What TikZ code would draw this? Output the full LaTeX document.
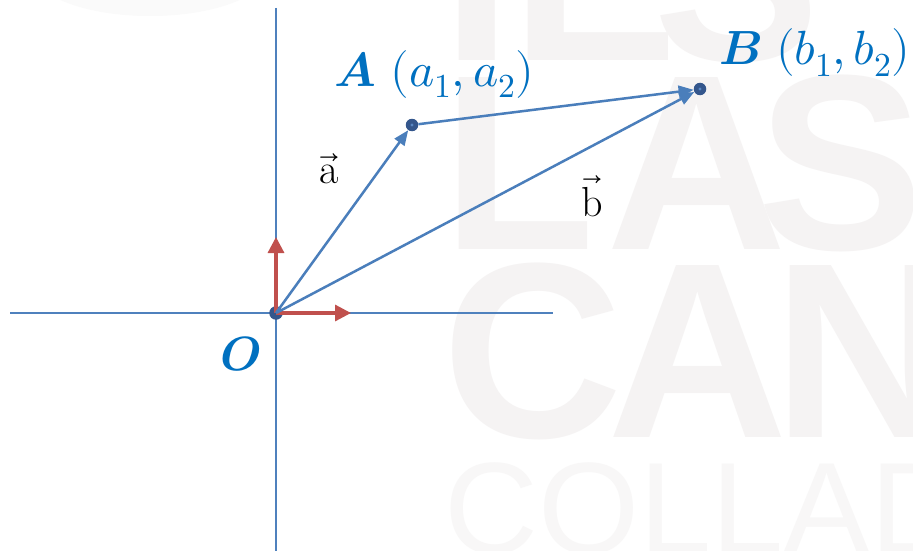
\documentclass[tikz,border=0pt]{standalone}
\usepackage{fontspec}
\usepackage{unicode-math}
\setmathfont{Latin Modern Math}
\newfontfamily\wmfont{Liberation Sans}
\usetikzlibrary{arrows.meta}
\definecolor{wmc}{RGB}{245,243,243}
\definecolor{wmlight}{RGB}{248,247,247}
\definecolor{arcc}{RGB}{250,250,250}
\definecolor{axisc}{RGB}{79,129,189}
\definecolor{vecc}{RGB}{74,126,187}
\definecolor{redc}{RGB}{192,80,77}
\definecolor{lblc}{RGB}{0,112,192}
\definecolor{dotc}{RGB}{52,86,140}
\definecolor{dotin}{RGB}{90,135,195}
\tikzset{
  wmtext/.style={inner sep=0pt, text=wmc, anchor=base west},
  axisline/.style={draw=axisc, line width=1.4pt},
  vecline/.style={draw=vecc, line width=2.5pt, -{Triangle[length=15pt,width=12pt]}},
  basisvec/.style={draw=redc, line width=3.2pt, -{Triangle[length=16pt,width=16pt]}},
  dotn/.style={circle, fill=dotc, minimum size=12.5pt, inner sep=0pt, draw=none},
  lbl/.style={inner sep=0pt, text=lblc, font=\fontsize{48}{56}\selectfont},
  vlbl/.style={inner sep=0pt, text=black, font=\fontsize{42}{50}\selectfont}
}
\begin{document}
\begin{tikzpicture}[x=1pt,y=-1pt]
\useasboundingbox (0,0) rectangle (913,551);
\fill[white] (0,0) rectangle (913,551);
% watermark
\begin{scope}
\clip (0,0) rectangle (913,551);
\fill[arcc] (150,-30) ellipse [x radius=118, y radius=46];
\node[wmtext, font=\wmfont\bfseries\fontsize{250}{250}\selectfont] (w1) at (442,61) {IE\kern-25pt S};
\node[wmtext, font=\wmfont\bfseries\fontsize{250}{250}\selectfont] (w2) at (442,249) {L\kern12pt A\kern-30pt S};
\node[wmtext, font=\wmfont\bfseries\fontsize{250}{250}\selectfont] (w3) at (442,437) {C\kern-15pt A\kern-15pt N};
\node[wmtext, text=wmlight, font=\wmfont\fontsize{130}{130}\selectfont] (w4) at (444,553) {COLLADO};
\end{scope}
% axes
\coordinate (xl) at (10,313);
\coordinate (xr) at (553,313);
\coordinate (yt) at (276,8);
\coordinate (yb) at (276,551);
\draw[axisline] (xl) -- (xr);
\draw[axisline] (yt) -- (yb);
% points
\node[dotn, minimum size=13.5pt] (O) at (276,313) {};
\node[dotn] (A) at (412,125) {};
\node[dotn] (B) at (700,89) {};
\fill[dotin] (A.center) circle [radius=1.6];
\fill[dotin] (B.center) circle [radius=1.6];
% basis vectors
\coordinate (ex) at (351,313);
\coordinate (ey) at (276,237);
\draw[basisvec] (O.center) -- (ey);
\draw[basisvec] (O.center) -- (ex);
% vectors
\draw[vecline] (O.center) -- (A);
\draw[vecline] (O.center) -- (B);
\draw[vecline] (A) -- (B);
% labels
\node[lbl, anchor=base west] (LA) at (334,86) {$\symbfit{A}\ (a_1,a_2)$};
\node[lbl, anchor=base west] (LB) at (719,65) {$\symbfit{B}\ (b_1,b_2)$};
\node[lbl, anchor=base] (LO) at (241,370) {$\symbfit{O}$};
\node[vlbl, anchor=base] (va) at (329,183) {$\overrightarrow{\mathrm{a}}$};
\node[vlbl, anchor=base] (vb) at (592,216) {$\overrightarrow{\mathrm{b}}$};
\end{tikzpicture}
\end{document}
